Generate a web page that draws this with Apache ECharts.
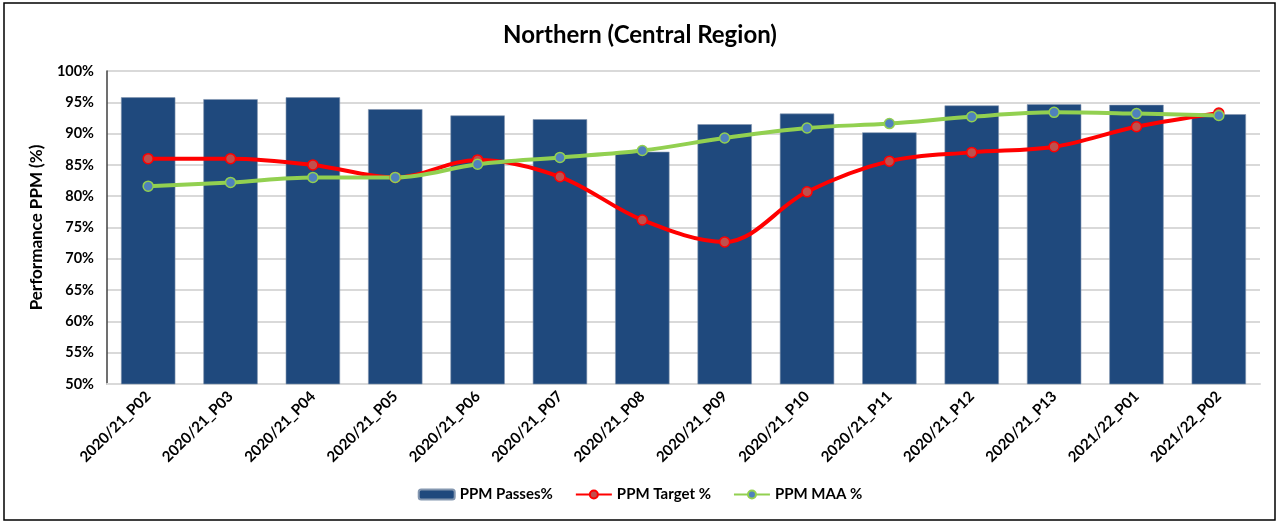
<!DOCTYPE html>
<html>
<head>
<meta charset="utf-8">
<script src="https://cdn.jsdelivr.net/npm/echarts@6/dist/echarts.min.js"></script>
<style>
    html, body { margin: 0; padding: 0; background: #fff; }
    #chart { width: 1280px; height: 524px; }
</style>
</head>
<body>
<div id="chart"></div>
<script>
const categories = ['2020/21_P02', '2020/21_P03', '2020/21_P04', '2020/21_P05', '2020/21_P06', '2020/21_P07',
    '2020/21_P08', '2020/21_P09', '2020/21_P10', '2020/21_P11', '2020/21_P12', '2020/21_P13', '2021/22_P01', '2021/22_P02']
const passes = [95.8, 95.5, 95.8, 93.9, 92.9, 92.3, 87.1, 91.5, 93.2, 90.2, 94.5, 94.7, 94.6, 93.1]
const target = [86.0, 86.0, 85.0, 83.0, 85.8, 83.1, 76.2, 72.7, 80.7, 85.6, 87.0, 87.9, 91.1, 93.3]
const maa = [81.6, 82.2, 83.0, 83.0, 85.1, 86.2, 87.3, 89.3, 90.9, 91.6, 92.7, 93.4, 93.2, 92.9]

const font = 'Lato, "Open Sans", sans-serif'
const chart = echarts.init(document.getElementById('chart'))

chart.setOption({
    animation: false,
    textStyle: { fontFamily: font },
    graphic: [
        {
            type: 'rect',
            shape: { x: 4, y: 3, width: 1271, height: 517 },
            style: { fill: 'none', stroke: '#000', lineWidth: 1.5 },
            silent: true
        }
    ],
    title: {
        text: 'Northern (Central Region)',
        left: 'center',
        top: 18,
        textStyle: { fontSize: 24, fontWeight: 'bold', color: '#000', fontFamily: font }
    },
    legend: {
        bottom: 17,
        left: 'center',
        itemWidth: 36,
        itemHeight: 10,
        itemGap: 22,
        textStyle: { fontSize: 15, fontWeight: 'bold', color: '#000' },
        data: ['PPM Passes%', 'PPM Target %', 'PPM MAA %']
    },
    grid: { left: 107, right: 20, top: 71, bottom: 140 },
    xAxis: {
        type: 'category',
        data: categories,
        axisLine: { lineStyle: { color: '#d9d9d9', width: 2 } },
        axisTick: { show: false },
        axisLabel: { rotate: 45, fontSize: 15, fontWeight: 'bold', color: '#000', margin: 10 }
    },
    yAxis: {
        type: 'value',
        min: 50,
        max: 100,
        interval: 5,
        name: 'Performance PPM (%)',
        nameLocation: 'middle',
        nameGap: 62,
        nameTextStyle: { fontSize: 17, fontWeight: 'bold', color: '#000' },
        axisLine: { show: true, lineStyle: { color: '#404040', width: 1.5 } },
        axisTick: { show: false },
        axisLabel: { formatter: '{value}%', fontSize: 14.5, fontWeight: 'bold', color: '#000', margin: 13 },
        splitLine: { lineStyle: { color: '#d9d9d9', width: 2 } }
    },
    series: [
        {
            name: 'PPM Passes%',
            type: 'bar',
            data: passes,
            barCategoryGap: '34%',
            itemStyle: { color: '#1f497d', borderColor: '#8497b0', borderWidth: 0.6 }
        },
        {
            name: 'PPM Target %',
            type: 'line',
            data: target,
            smooth: 0.35,
            symbol: 'circle',
            symbolSize: 10,
            lineStyle: { color: '#ff0000', width: 4 },
            itemStyle: { color: '#c0504d', borderColor: '#ff0000', borderWidth: 1.5 }
        },
        {
            name: 'PPM MAA %',
            type: 'line',
            data: maa,
            smooth: 0.35,
            symbol: 'circle',
            symbolSize: 10,
            lineStyle: { color: '#92d050', width: 4 },
            itemStyle: { color: '#4f81bd', borderColor: '#92d050', borderWidth: 1.5 }
        }
    ]
})
</script>
</body>
</html>
